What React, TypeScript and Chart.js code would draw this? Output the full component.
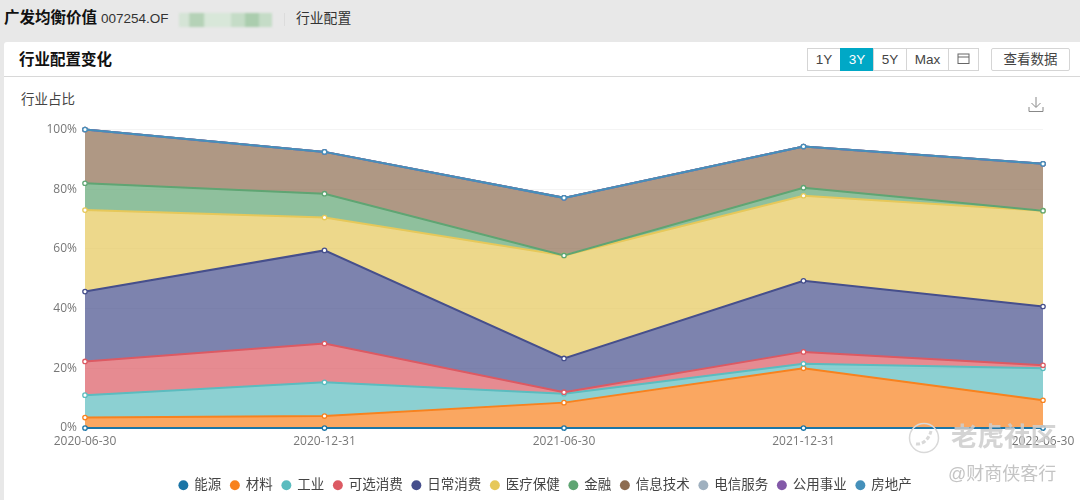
import React, { useEffect, useRef } from "react";
import { Chart, registerables } from "chart.js";

Chart.register(...registerables);

const FONT = '"Open Sans", "Noto Sans CJK SC", sans-serif';
const UI_FONT = '"Liberation Sans", "Noto Sans CJK SC", sans-serif';

const dates = ["2020-06-30", "2020-12-31", "2021-06-30", "2021-12-31", "2022-06-30"];
const seriesNames = ["能源", "材料", "工业", "可选消费", "日常消费", "医疗保健", "金融", "信息技术", "电信服务", "公用事业", "房地产"];

const energy = [0, 0, 0, 0, 0];
const materials = [3.5, 4, 8.5, 20, 9.3];
const industrials = [7.5, 11.3, 3, 1.5, 10.7];
const discretionary = [11.3, 13, 0.5, 4, 1];
const staples = [23.4, 31.2, 11.3, 23.8, 19.7];
const healthcare = [27.3, 11, 34.5, 28.5, 32.1];
const financials = [9, 8, 0, 2.7, 0];
const tech = [18, 14, 19.3, 13.8, 15.7];
const telecom = [0, 0, 0, 0, 0];
const utilities = [0, 0, 0, 0, 0];
const realEstate = [0, 0, 0, 0, 0];

const seriesValues = [energy, materials, industrials, discretionary, staples, healthcare, financials, tech, telecom, utilities, realEstate];
const lineColors = ["#1b75a6", "#f8821e", "#5bbcbf", "#dc5a63", "#464f8c", "#e6c85a", "#5fa573", "#8d6c50", "#9fb0bf", "#8359a8", "#4590ba"];
const yTicks = [0, 20, 40, 60, 80, 100];

function hexA(hex: string, a: number) {
  const n = parseInt(hex.slice(1), 16);
  return `rgba(${(n >> 16) & 255},${(n >> 8) & 255},${n & 255},${a})`;
}

const abs = (s: React.CSSProperties): React.CSSProperties => ({ position: "absolute", whiteSpace: "nowrap", ...s });

const legendShift = {
  id: "legendShift",
  afterLayout(chart: any) {
    chart.legend.left += 24;
    chart.legend.right += 24;
    chart.legend.top += 2;
    chart.legend.bottom += 2;
  },
};

export default function App() {
  const ref = useRef<HTMLCanvasElement>(null);

  useEffect(() => {
    document.body.style.margin = "0";
    let running = dates.map(() => 0);
    const datasets = seriesNames.map((name, i) => {
      running = running.map((v, k) => v + seriesValues[i][k]);
      return {
        label: name,
        data: running.slice(),
        borderColor: lineColors[i],
        backgroundColor: hexA(lineColors[i], 0.7),
        fill: i === 0 ? "origin" : "-1",
        borderWidth: 2,
        pointRadius: 2.2,
        pointBorderWidth: 1.3,
        pointBackgroundColor: "#ffffff",
        pointBorderColor: lineColors[i],
        tension: 0,
        clip: false,
        order: -i,
      };
    });
    const chart = new Chart(ref.current!, {
      type: "line",
      data: { labels: dates, datasets: datasets as any },
      plugins: [legendShift],
      options: {
        animation: false,
        responsive: false,
        layout: { padding: { top: 44.5, right: 37, left: 0, bottom: 0 } },
        plugins: {
          filler: { drawTime: "beforeDatasetsDraw" },
          tooltip: { enabled: false },
          title: { display: false },
          legend: {
            position: "bottom",
            labels: {
              usePointStyle: true,
              pointStyle: "circle",
              boxWidth: 8.25,
              boxHeight: 7,
              padding: 9.5,
              color: "#444444",
              font: { family: FONT, size: 13.5 },
              sort: (a: any, b: any) => a.datasetIndex - b.datasetIndex,
              generateLabels: (c: any) =>
                c.data.datasets.map((d: any, i: number) => ({
                  text: d.label,
                  fillStyle: lineColors[i],
                  strokeStyle: lineColors[i],
                  lineWidth: 0,
                  pointStyle: "circle",
                  datasetIndex: i,
                  hidden: false,
                  fontColor: "#444444",
                })),
            },
          },
        },
        scales: {
          x: {
            offset: false,
            grid: { display: true, drawOnChartArea: false, drawTicks: true, tickLength: 3, tickColor: "#1b75a6" },
            border: { display: false },
            ticks: {
              color: "#777777",
              font: { family: FONT, size: 12 },
              maxRotation: 0,
              autoSkip: false,
              padding: 3.5,
            },
            afterFit: (s: any) => { s.height = 39; },
          },
          y: {
            min: 0,
            max: 100,
            grid: { color: "#f4f4f4", drawTicks: false },
            border: { display: false },
            afterBuildTicks: (s: any) => { s.ticks = yTicks.map((v) => ({ value: v })); },
            ticks: {
              color: "#777777",
              font: { family: FONT, size: 12 },
              padding: 8,
              callback: (v: any) => `${v}%`,
            },
            afterFit: (s: any) => { s.width = 85; },
          },
        },
      },
    });
    return () => chart.destroy();
  }, []);

  const btn: React.CSSProperties = {
    position: "absolute", top: 48, height: 23, boxSizing: "border-box", border: "1px solid #d5d5d5",
    background: "#fff", color: "#444", fontSize: 13.5, lineHeight: "21px", textAlign: "center", fontFamily: UI_FONT,
  };

  return (
    <div style={{ position: "relative", width: 1080, height: 500, overflow: "hidden", background: "#e8e8e8", fontFamily: UI_FONT }}>
      <div style={abs({ left: 4, top: 42, width: 1076, height: 458, background: "#fff", borderRadius: "3px 0 0 0" })} />
      <div style={abs({ left: 4, top: 76, width: 1076, height: 1, background: "#d8d8d8" })} />
      <div style={abs({ left: 4, top: 8, fontSize: 15.5, fontWeight: 700, color: "#111", lineHeight: "20px" })}>广发均衡价值</div>
      <div style={abs({ left: 101, top: 9, fontSize: 13.5, color: "#333", lineHeight: "20px" })}>007254.OF</div>
      <div style={abs({ left: 179, top: 13, width: 93, height: 14, background: "linear-gradient(90deg,#d5e4d6 0%,#d5e4d6 10%,#b5d2b7 12%,#b5d2b7 26%,#d8e7d9 28%,#d8e7d9 55%,#c5dcc7 57%,#c5dcc7 70%,#abcdae 72%,#abcdae 85%,#c5dcc7 87%)", filter: "blur(1px)" })} />
      <div style={abs({ left: 284, top: 13, width: 1, height: 13, background: "#dcdcdc" })} />
      <div style={abs({ left: 296, top: 9, fontSize: 13.8, color: "#333", lineHeight: "20px" })}>行业配置</div>
      <div style={abs({ left: 19, top: 50, fontSize: 15.5, fontWeight: 700, color: "#111", lineHeight: "20px" })}>行业配置变化</div>
      <div style={abs({ left: 21, top: 90, fontSize: 13.5, color: "#444", lineHeight: "20px" })}>行业占比</div>

      <div style={{ ...btn, left: 807, width: 34 }}>1Y</div>
      <div style={{ ...btn, left: 840, width: 34, background: "#00a8c6", border: "1px solid #00a8c6", color: "#fff" }}>3Y</div>
      <div style={{ ...btn, left: 873, width: 34 }}>5Y</div>
      <div style={{ ...btn, left: 906, width: 43 }}>Max</div>
      <div style={{ ...btn, left: 948, width: 31 }}>
        <svg width="13" height="12" viewBox="0 0 13 12" style={{ display: "block", margin: "4px auto 0" }}>
          <rect x="1" y="1" width="11" height="9.5" fill="none" stroke="#666" strokeWidth="1" />
          <line x1="1" y1="4" x2="12" y2="4" stroke="#666" strokeWidth="1" />
        </svg>
      </div>
      <div style={{ ...btn, left: 991, width: 79, borderRadius: 2 }}>查看数据</div>

      <canvas ref={ref} width={1080} height={415} style={{ position: "absolute", left: 0, top: 85, display: "block" }} />

      <svg width="16" height="17" viewBox="0 0 16 17" style={{ position: "absolute", left: 1028, top: 96 }}>
        <path d="M8 1v10M3.5 7l4.5 4.5L12.5 7M1 11v4.5h14V11" fill="none" stroke="#888" strokeWidth="1" />
      </svg>

      <svg width="32" height="34" viewBox="0 0 32 34" style={{ position: "absolute", left: 908, top: 421 }}>
        <circle cx="16" cy="17" r="14.5" fill="none" stroke="#d9d9d9" strokeWidth="1.5" />
        <path d="M8 23c7 1 13-5 15-13" fill="none" stroke="#d9d9d9" strokeWidth="3" strokeDasharray="4 2" />
      </svg>
      <div style={abs({ left: 951, top: 420, fontSize: 26.5, color: "rgba(205,205,205,0.85)", lineHeight: "34px", fontWeight: 700 })}>老虎社区</div>
      <div style={abs({ left: 948, top: 464, fontSize: 18, color: "rgba(190,190,190,0.9)", lineHeight: "20px" })}>@财商侠客行</div>
    </div>
  );
}
